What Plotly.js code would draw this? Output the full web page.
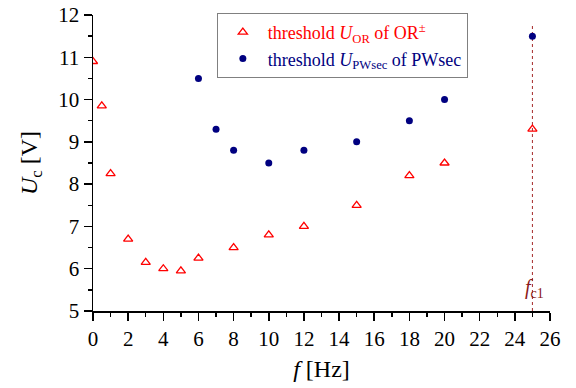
<!DOCTYPE html>
<html>
<head>
<meta charset="utf-8">
<script src="https://cdn.plot.ly/plotly-3.0.1.min.js"></script>
<style>html,body{margin:0;padding:0;background:#fff;}#chart{width:576px;height:388px;}</style>
</head>
<body>
<div id="chart"></div>
<script>
const orFreq = [0, 0.5, 1, 2, 3, 4, 5, 6, 8, 10, 12, 15, 18, 20, 25];
const orVolt = [10.9, 9.85, 8.25, 6.7, 6.15, 6.0, 5.95, 6.25, 6.5, 6.8, 7.0, 7.5, 8.2, 8.5, 9.3];
const pwFreq = [6, 7, 8, 10, 12, 15, 18, 20, 25];
const pwVolt = [10.5, 9.3, 8.8, 8.5, 8.8, 9.0, 9.5, 10.0, 11.5];
const fc1 = 25;
const fc1Top = 11.75;

const serif = "'Liberation Serif', 'Times New Roman', serif";

const traces = [
  {
    x: orFreq, y: orVolt, type: 'scatter', mode: 'markers',
    name: '<span style="color:#ff0000">threshold <i>U</i><sub>OR</sub> of OR<sup>±</sup></span>',
    marker: {symbol: 'triangle-up-open', size: 8, color: '#ff0000', line: {width: 1.3, color: '#ff0000'}}
  },
  {
    x: pwFreq, y: pwVolt, type: 'scatter', mode: 'markers',
    name: '<span style="color:#000080">threshold <i>U</i><sub>PWsec</sub> of PWsec</span>',
    marker: {symbol: 'circle', size: 7, color: '#000080'}
  }
];

const layout = {
  width: 576, height: 388,
  margin: {l: 93, r: 26, t: 15, b: 77},
  paper_bgcolor: '#fff', plot_bgcolor: '#fff',
  font: {family: serif, size: 18, color: '#000'},
  showlegend: true,
  legend: {
    x: 0.271, y: 1.007, xanchor: 'left', yanchor: 'top',
    bordercolor: '#808080', borderwidth: 1, bgcolor: '#fff',
    font: {family: serif, size: 18}, tracegroupgap: 0, itemwidth: 40
  },
  xaxis: {
    range: [0, 26], dtick: 2, tick0: 0, showgrid: false, zeroline: false,
    showline: true, linecolor: '#000', linewidth: 1.5,
    ticks: 'outside', ticklen: 8, tickwidth: 1.5, tickcolor: '#000',
    minor: {dtick: 1, ticklen: 4, tickwidth: 1.5, tickcolor: '#000', ticks: 'outside'},
    tickfont: {family: serif, size: 21},
    title: {text: '<i>f</i> [Hz]', font: {family: serif, size: 24}, standoff: 10}
  },
  yaxis: {
    range: [5, 12], dtick: 1, tick0: 5, showgrid: false, zeroline: false,
    showline: true, linecolor: '#000', linewidth: 1.5,
    ticks: 'outside', ticklen: 8, tickwidth: 1.5, tickcolor: '#000',
    minor: {dtick: 0.5, ticklen: 4, tickwidth: 1.5, tickcolor: '#000', ticks: 'outside'},
    tickfont: {family: serif, size: 21},
    title: {text: '<i>U</i><sub>c</sub> [V]', font: {family: serif, size: 24}, standoff: 14}
  },
  shapes: [
    {type: 'line', xref: 'x', yref: 'y', x0: fc1, x1: fc1, y0: 5, y1: fc1Top,
     line: {color: '#a52a2a', width: 1, dash: 'dot'}, layer: 'below'}
  ],
  annotations: [
    {xref: 'x', yref: 'y', x: fc1, y: 5.2, xanchor: 'center', yanchor: 'bottom', showarrow: false,
     text: '<i>f</i><sub>c1</sub>', font: {family: serif, size: 20, color: '#8b1a1a'}, xshift: 2}
  ]
};

Plotly.newPlot('chart', traces, layout, {displayModeBar: false, staticPlot: true});
</script>
</body>
</html>
